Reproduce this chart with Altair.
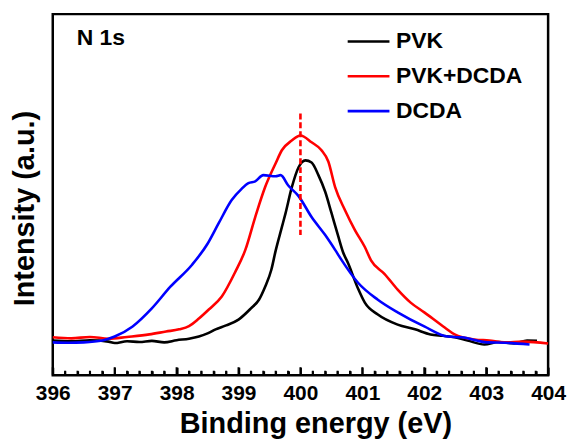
import altair as alt
import pandas as pd

# ---- data (intensity in arbitrary units, 0-100 frame) ----
pvk_e = [396.0, 396.3, 396.6, 396.9, 397.0, 397.2, 397.4, 397.6, 397.8, 398.0, 398.2, 398.36,
         398.5, 398.63, 398.8, 399.0, 399.2, 399.33, 399.43, 399.53, 399.6, 399.7, 399.76,
         399.86, 399.97, 400.08, 400.18, 400.29, 400.4, 400.5, 400.61, 400.69, 400.77,
         400.93, 401.04, 401.25, 401.57, 401.85, 402.1, 402.3, 402.49, 402.7, 402.97,
         403.2, 403.45, 403.66, 403.82]
pvk_i = [9.6, 9.4, 9.7, 9.3, 8.9, 9.4, 9.2, 9.5, 9.1, 9.7, 10.1, 10.7,
         11.6, 12.7, 13.8, 15.4, 18.5, 20.9, 24.5, 29.2, 34.5, 41.0, 44.9,
         52.0, 57.6, 59.5, 58.9, 55.4, 50.8, 45.0, 38.5, 34.0, 31.0,
         24.0, 20.1, 16.8, 14.0, 12.7, 11.3, 10.9, 10.5, 9.6, 8.5,
         9.2, 8.8, 9.6, 9.5]

mix_e = [396.0, 396.3, 396.6, 396.9, 397.2, 397.56, 397.83, 398.04, 398.2, 398.36, 398.52,
         398.73, 398.95, 399.11, 399.27, 399.43, 399.6, 399.7, 399.86, 400.0, 400.18,
         400.34, 400.45, 400.56, 400.72, 400.88, 401.04, 401.14, 401.36, 401.57, 401.78,
         402.0, 402.33, 402.49, 402.81, 403.05, 403.29, 403.6, 404.0]
mix_i = [10.5, 10.2, 10.6, 10.1, 10.6, 11.3, 12.1, 12.7, 13.6, 15.7, 18.2,
         21.8, 28.7, 34.7, 43.8, 52.1, 58.7, 62.3, 65.0, 66.4, 64.5,
         62.3, 59.2, 52.1, 45.7, 40.2, 35.5, 31.8, 28.0, 23.7, 20.1,
         17.4, 13.2, 11.3, 9.9, 9.6, 9.1, 9.3, 8.8]

dcda_e = [396.0, 396.25, 396.5, 396.8, 397.0, 397.29, 397.6, 397.9, 398.25, 398.5, 398.68,
          398.89, 399.05, 399.16, 399.27, 399.4, 399.6, 399.68, 399.8, 399.97, 400.18,
          400.4, 400.56, 400.66, 400.93, 401.25, 401.57, 402.0, 402.38, 402.6, 403.02,
          403.3, 403.7]
dcda_i = [9.1, 9.0, 9.1, 9.6, 10.7, 13.5, 18.5, 24.5, 30.6, 36.4, 42.1,
          48.5, 51.6, 53.2, 53.7, 55.4, 55.1, 55.4, 52.6, 49.6, 43.8,
          38.8, 34.7, 32.0, 25.6, 20.9, 17.4, 13.5, 10.7, 10.5, 9.1,
          9.0, 8.5]

series_names = ["PVK", "PVK+DCDA", "DCDA"]
series_colors = ["#000000", "#ff0000", "#0000ff"]

major_ticks = [396, 397, 398, 399, 400, 401, 402, 403, 404]
all_ticks = [round(396 + 0.2 * k, 1) for k in range(41)]

marker_x = [400.0]
marker_top = [72.5]
marker_bottom = [38.8]

# ---- build tables ----
rows = []
for name, es, vs in zip(series_names, [pvk_e, mix_e, dcda_e], [pvk_i, mix_i, dcda_i]):
    for e, v in zip(es, vs):
        rows.append({"energy": e, "intensity": v, "sample": name})
df = pd.DataFrame(rows)

W, H = 498, 363
FONT = "Liberation Sans"
PX = 100.0 / H  # intensity units per pixel (tick lengths are in pixels)

tick_df = pd.DataFrame(
    [{"t": t, "lo": 0.0, "hi": (8 if t in major_ticks else 4.5) * PX} for t in all_ticks])

xscale = alt.Scale(domain=[396, 404], nice=False, zero=False)
yscale = alt.Scale(domain=[0, 100], nice=False, zero=False)

xaxis = alt.Axis(title="Binding energy (eV)", values=major_ticks, format="d",
                 orient="bottom",
                 ticks=False, domain=False, grid=False, labelFlush=False,
                 labelFont=FONT, labelFontSize=21, labelFontWeight="bold",
                 labelColor="black", labelPadding=7,
                 titleFont=FONT, titleFontSize=29, titleFontWeight="bold",
                 titleColor="black", titleX=264, titleY=58,
                 titleBaseline="alphabetic", titleAlign="center")
# inward ticks: a label-less top axis moved down onto the bottom edge
tick_axis = alt.Axis(title=None, orient="top", offset=-H, values=all_ticks,
                     labels=False, domain=False, grid=False, ticks=True,
                     tickColor="black", tickWidth=2,
                     tickSize={"condition": {"test": "datum.value % 1 === 0", "value": 8},
                               "value": 4.5})
yaxis = alt.Axis(title="Intensity (a.u.)", labels=False, ticks=False,
                 domain=False, grid=False,
                 titleFont=FONT, titleFontSize=29, titleFontWeight="bold",
                 titleColor="black", titleAngle=270, titleX=-28, titleY=195,
                 titleBaseline="middle", titleAlign="center")

lines = alt.Chart(df).mark_line(strokeWidth=2.6, interpolate="monotone").encode(
    x=alt.X("energy:Q", scale=xscale, axis=xaxis),
    y=alt.Y("intensity:Q", scale=yscale, axis=yaxis),
    color=alt.Color("sample:N",
                    scale=alt.Scale(domain=series_names, range=series_colors),
                    legend=alt.Legend(title=None, orient="none", legendX=295, legendY=5,
                                      symbolType="stroke", symbolSize=1764,
                                      symbolStrokeWidth=2.6, labelFont=FONT,
                                      labelFontSize=23, labelFontWeight="bold",
                                      labelColor="black", labelOffset=5,
                                      rowPadding=-10)),
    detail="sample:N",
)

ticks = alt.Chart(tick_df).mark_rule(color="black", strokeWidth=2).encode(
    x=alt.X("t:Q", scale=xscale, axis=None),
    y=alt.Y("lo:Q", scale=yscale, axis=yaxis),
    y2="hi:Q")

marker = alt.Chart(pd.DataFrame({"x": marker_x, "top": marker_top, "bot": marker_bottom})).mark_rule(
    color="#ff0000", strokeWidth=2.6, strokeDash=[6, 3]).encode(
    x=alt.X("x:Q", scale=xscale, axis=tick_axis),
    y=alt.Y("top:Q", scale=yscale, axis=yaxis), y2="bot:Q")

label = alt.Chart(pd.DataFrame({"t": ["N 1s"]})).mark_text(
    font=FONT, fontSize=23, fontWeight="bold", color="black",
    align="left", baseline="alphabetic").encode(
    text="t:N", x=alt.value(24), y=alt.value(31))

chart = alt.layer(lines, ticks, marker, label).resolve_axis(x="independent").properties(
    width=W, height=H,
    background="white",
    autosize=alt.AutoSizeParams(type="none"),
    padding={"left": 45, "top": 5, "right": 21, "bottom": 66},
).configure_view(stroke="black", strokeWidth=2.5)

chart.save("out.html", embed_options={"renderer": "svg", "actions": False})
